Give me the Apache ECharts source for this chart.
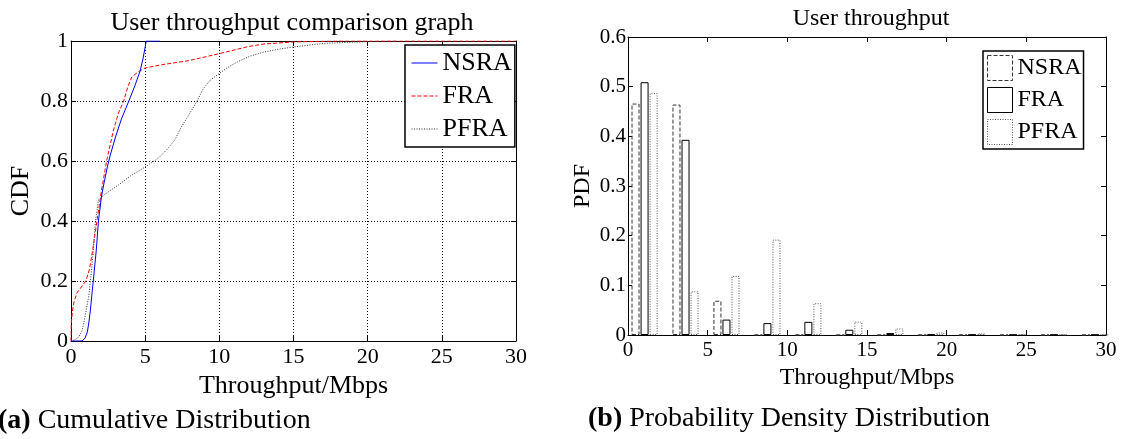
<!DOCTYPE html>
<html><head><meta charset="utf-8">
<script src="https://cdn.jsdelivr.net/npm/echarts@6/dist/echarts.min.js"></script>
<style>html,body{margin:0;padding:0;background:#fff}#c{width:1123px;height:439px}</style>
</head><body><div id="c"></div>
<script>
// ---------- data ----------
const seriesNames = ['NSRA', 'FRA', 'PFRA'];

// CDF curves: [throughput (Mbps), cumulative probability]
const cdfNSRA = [[0,0],[0.75,0],[0.95,0.01],[1.1,0.03],[1.2,0.06],[1.3,0.1],[1.4,0.15],[1.5,0.2],[1.7,0.3],[1.85,0.4],[2.05,0.48],[2.2,0.52],[2.45,0.58],[2.65,0.62],[3.0,0.68],[3.4,0.74],[3.9,0.8],[4.3,0.85],[4.66,0.9],[4.85,0.94],[5.0,0.98],[5.07,1],[6.0,1]];
const cdfFRA = [[0,0],[0.02,0.06],[0.1,0.1],[0.2,0.13],[0.4,0.16],[0.7,0.18],[1.0,0.2],[1.25,0.24],[1.45,0.3],[1.6,0.35],[1.75,0.4],[2.05,0.5],[2.4,0.6],[2.85,0.7],[3.2,0.76],[3.55,0.8],[3.85,0.85],[4.1,0.88],[4.6,0.9],[5.0,0.91],[6.0,0.92],[8.0,0.935],[10.0,0.958],[12.0,0.982],[13.0,0.99],[15.0,0.997],[18.0,1],[30.0,1]];
const cdfPFRA = [[0,0],[0.3,0.005],[0.55,0.015],[0.75,0.035],[0.9,0.07],[1.05,0.11],[1.2,0.15],[1.35,0.22],[1.5,0.3],[1.65,0.4],[1.85,0.47],[2.3,0.49],[3.2,0.52],[4.0,0.55],[5.0,0.58],[5.9,0.61],[6.5,0.64],[7.0,0.67],[7.4,0.71],[7.9,0.75],[8.5,0.8],[8.9,0.84],[9.4,0.87],[9.95,0.89],[10.5,0.91],[11.2,0.93],[12.1,0.95],[13.0,0.963],[14.0,0.973],[15.0,0.98],[17.0,0.992],[20.0,0.998],[22.0,1]];

// PDF histogram: bin centres (Mbps) and probability per bin
const binCenters = [1.04, 3.61, 6.18, 8.75, 11.32, 13.89, 16.46, 19.03, 21.60, 24.17, 26.74, 29.31];
const pdfNSRA = [0.466, 0.464, 0.069, 0, 0, 0, 0, 0, 0, 0, 0, 0];
const pdfFRA  = [0.509, 0.393, 0.031, 0.024, 0.0265, 0.0106, 0.004, 0.0015, 0.0008, 0.0005, 0.0005, 0.0003];
const pdfPFRA = [0.487, 0.088, 0.119, 0.192, 0.064, 0.027, 0.013, 0.005, 0.003, 0.0015, 0.001, 0.001];

const titles = ['User throughput comparison graph', 'User throughput'];
const captions = ['(a)', 'Cumulative Distribution', '(b)', 'Probability Density Distribution'];
const xName = 'Throughput/Mbps';
const yNames = ['CDF', 'PDF'];

// ---------- chart ----------
const FONT = "'Liberation Serif', 'Times New Roman', serif";
const chart = echarts.init(document.getElementById('c'), null, {renderer: 'canvas'});

function mainX(grid, fs, margin, splitShow, nameGap) {
  return {
    gridIndex: grid, type: 'value', min: 0, max: 30, interval: 5, position: 'bottom',
    axisLine: {show: true, onZero: false, lineStyle: {color: '#000', width: 1}},
    axisTick: {show: true, inside: true, length: 5, lineStyle: {color: '#000'}},
    axisLabel: {show: true, color: '#000', fontSize: fs, fontFamily: FONT, margin: margin},
    splitLine: {show: splitShow, lineStyle: {color: '#000', type: [1, 2], width: 1}},
    name: xName, nameLocation: 'middle', nameGap: nameGap,
    nameTextStyle: {color: '#000', fontSize: grid === 0 ? 26 : 24, fontFamily: FONT}
  };
}
function sideX(grid) {
  return {
    gridIndex: grid, type: 'value', min: 0, max: 30, interval: 5, position: 'top',
    axisLine: {show: true, onZero: false, lineStyle: {color: '#000', width: 1}},
    axisTick: {show: true, inside: true, length: 5, lineStyle: {color: '#000'}},
    axisLabel: {show: false}, splitLine: {show: false}
  };
}
function mainY(grid, max, interval, fs, margin, splitShow, name, nameGap) {
  return {
    gridIndex: grid, type: 'value', min: 0, max: max, interval: interval, position: 'left',
    axisLine: {show: true, onZero: false, lineStyle: {color: '#000', width: 1}},
    axisTick: {show: true, inside: true, length: 5, lineStyle: {color: '#000'}},
    axisLabel: {show: true, color: '#000', fontSize: fs, fontFamily: FONT, margin: margin},
    splitLine: {show: splitShow, lineStyle: {color: '#000', type: [1, 2], width: 1}},
    name: name, nameLocation: 'middle', nameGap: nameGap,
    nameTextStyle: {color: '#000', fontSize: grid === 0 ? 26 : 24, fontFamily: FONT}
  };
}
function sideY(grid, max, interval) {
  return {
    gridIndex: grid, type: 'value', min: 0, max: max, interval: interval, position: 'right',
    axisLine: {show: true, onZero: false, lineStyle: {color: '#000', width: 1}},
    axisTick: {show: true, inside: true, length: 5, lineStyle: {color: '#000'}},
    axisLabel: {show: false}, splitLine: {show: false}
  };
}

const lineColors = ['#0000ff', '#ff0000', '#333333'];
const lineStyles = [
  {color: lineColors[0], width: 1, type: 'solid'},
  {color: lineColors[1], width: 1, type: [4, 2]},
  {color: lineColors[2], width: 1, type: [1, 1.5]}
];
const barStyles = [
  {color: '#ffffff', borderColor: '#333333', borderWidth: 1, borderType: [4, 2]},
  {color: '#ffffff', borderColor: '#000000', borderWidth: 1, borderType: 'solid'},
  {color: '#ffffff', borderColor: '#555555', borderWidth: 1, borderType: [1, 1.5]}
];
const cdfData = [cdfNSRA, cdfFRA, cdfPFRA];
const pdfData = [pdfNSRA, pdfFRA, pdfPFRA];

const series = [];
seriesNames.forEach((n, i) => {
  series.push({
    name: n, type: 'line', xAxisIndex: 0, yAxisIndex: 0, data: cdfData[i],
    symbol: 'none', showSymbol: false, smooth: false, lineStyle: lineStyles[i],
    itemStyle: {color: lineColors[i]},
    emphasis: {disabled: true}, animation: false, z: 5 - i
  });
});
seriesNames.forEach((n, i) => {
  series.push({
    name: n, type: 'bar', xAxisIndex: 2, yAxisIndex: 2,
    data: binCenters.map((x, k) => [x, pdfData[i][k]]),
    barWidth: 8, barGap: '13%', itemStyle: barStyles[i],
    emphasis: {disabled: true}, animation: false
  });
});

const option = {
  backgroundColor: '#fff',
  animation: false,
  grid: [
    {left: 71, top: 41, width: 445, height: 300, show: false},
    {left: 628, top: 37, width: 478, height: 298, show: false}
  ],
  xAxis: [mainX(0, 22, 5, true, 24), sideX(0), mainX(1, 21, 5, false, 17), sideX(1)],
  yAxis: [mainY(0, 1, 0.2, 22, 3, true, yNames[0], 37), sideY(0, 1, 0.2),
          mainY(1, 0.6, 0.1, 21, 2, false, yNames[1], 33), sideY(1, 0.6, 0.1)],
  legend: [
    {
      orient: 'vertical', left: 405, top: 45, padding: [5, 3, 5, 6],
      itemWidth: 26, itemHeight: 14, itemGap: 7,
      backgroundColor: '#fff', borderColor: '#000', borderWidth: 1.5,
      textStyle: {color: '#000', fontSize: 26, fontFamily: FONT},
      selectedMode: false,
      data: seriesNames.map((n, i) => ({name: n, lineStyle: lineStyles[i], itemStyle: {color: lineColors[i], opacity: 0}}))
    },
    {
      orient: 'vertical', left: 983, top: 51, padding: [4, 2, 4, 4],
      itemWidth: 25, itemHeight: 25, itemGap: 6,
      backgroundColor: '#fff', borderColor: '#000', borderWidth: 1.5,
      textStyle: {color: '#000', fontSize: 24, fontFamily: FONT},
      selectedMode: false,
      data: seriesNames.map((n, i) => ({name: n, icon: 'rect', itemStyle: barStyles[i]}))
    }
  ],
  graphic: [
    {type: 'text', style: {x: 292, y: 23, text: titles[0], font: '26px ' + FONT, fill: '#000', textAlign: 'center', textVerticalAlign: 'middle'}},
    {type: 'text', style: {x: 871, y: 19, text: titles[1], font: '24px ' + FONT, fill: '#000', textAlign: 'center', textVerticalAlign: 'middle'}},
    {type: 'text', style: {x: -2, y: 421, text: '{b|' + captions[0] + '} ' + captions[1], textVerticalAlign: 'middle',
      rich: {b: {fontWeight: 'bold', fontSize: 28, fontFamily: FONT, fill: '#000'}}, font: '28px ' + FONT, fill: '#000'}},
    {type: 'text', style: {x: 588, y: 419, text: '{b|' + captions[2] + '} ' + captions[3], textVerticalAlign: 'middle',
      rich: {b: {fontWeight: 'bold', fontSize: 28, fontFamily: FONT, fill: '#000'}}, font: '28px ' + FONT, fill: '#000'}}
  ],
  series: series
};
chart.setOption(option);
</script>
</body></html>
